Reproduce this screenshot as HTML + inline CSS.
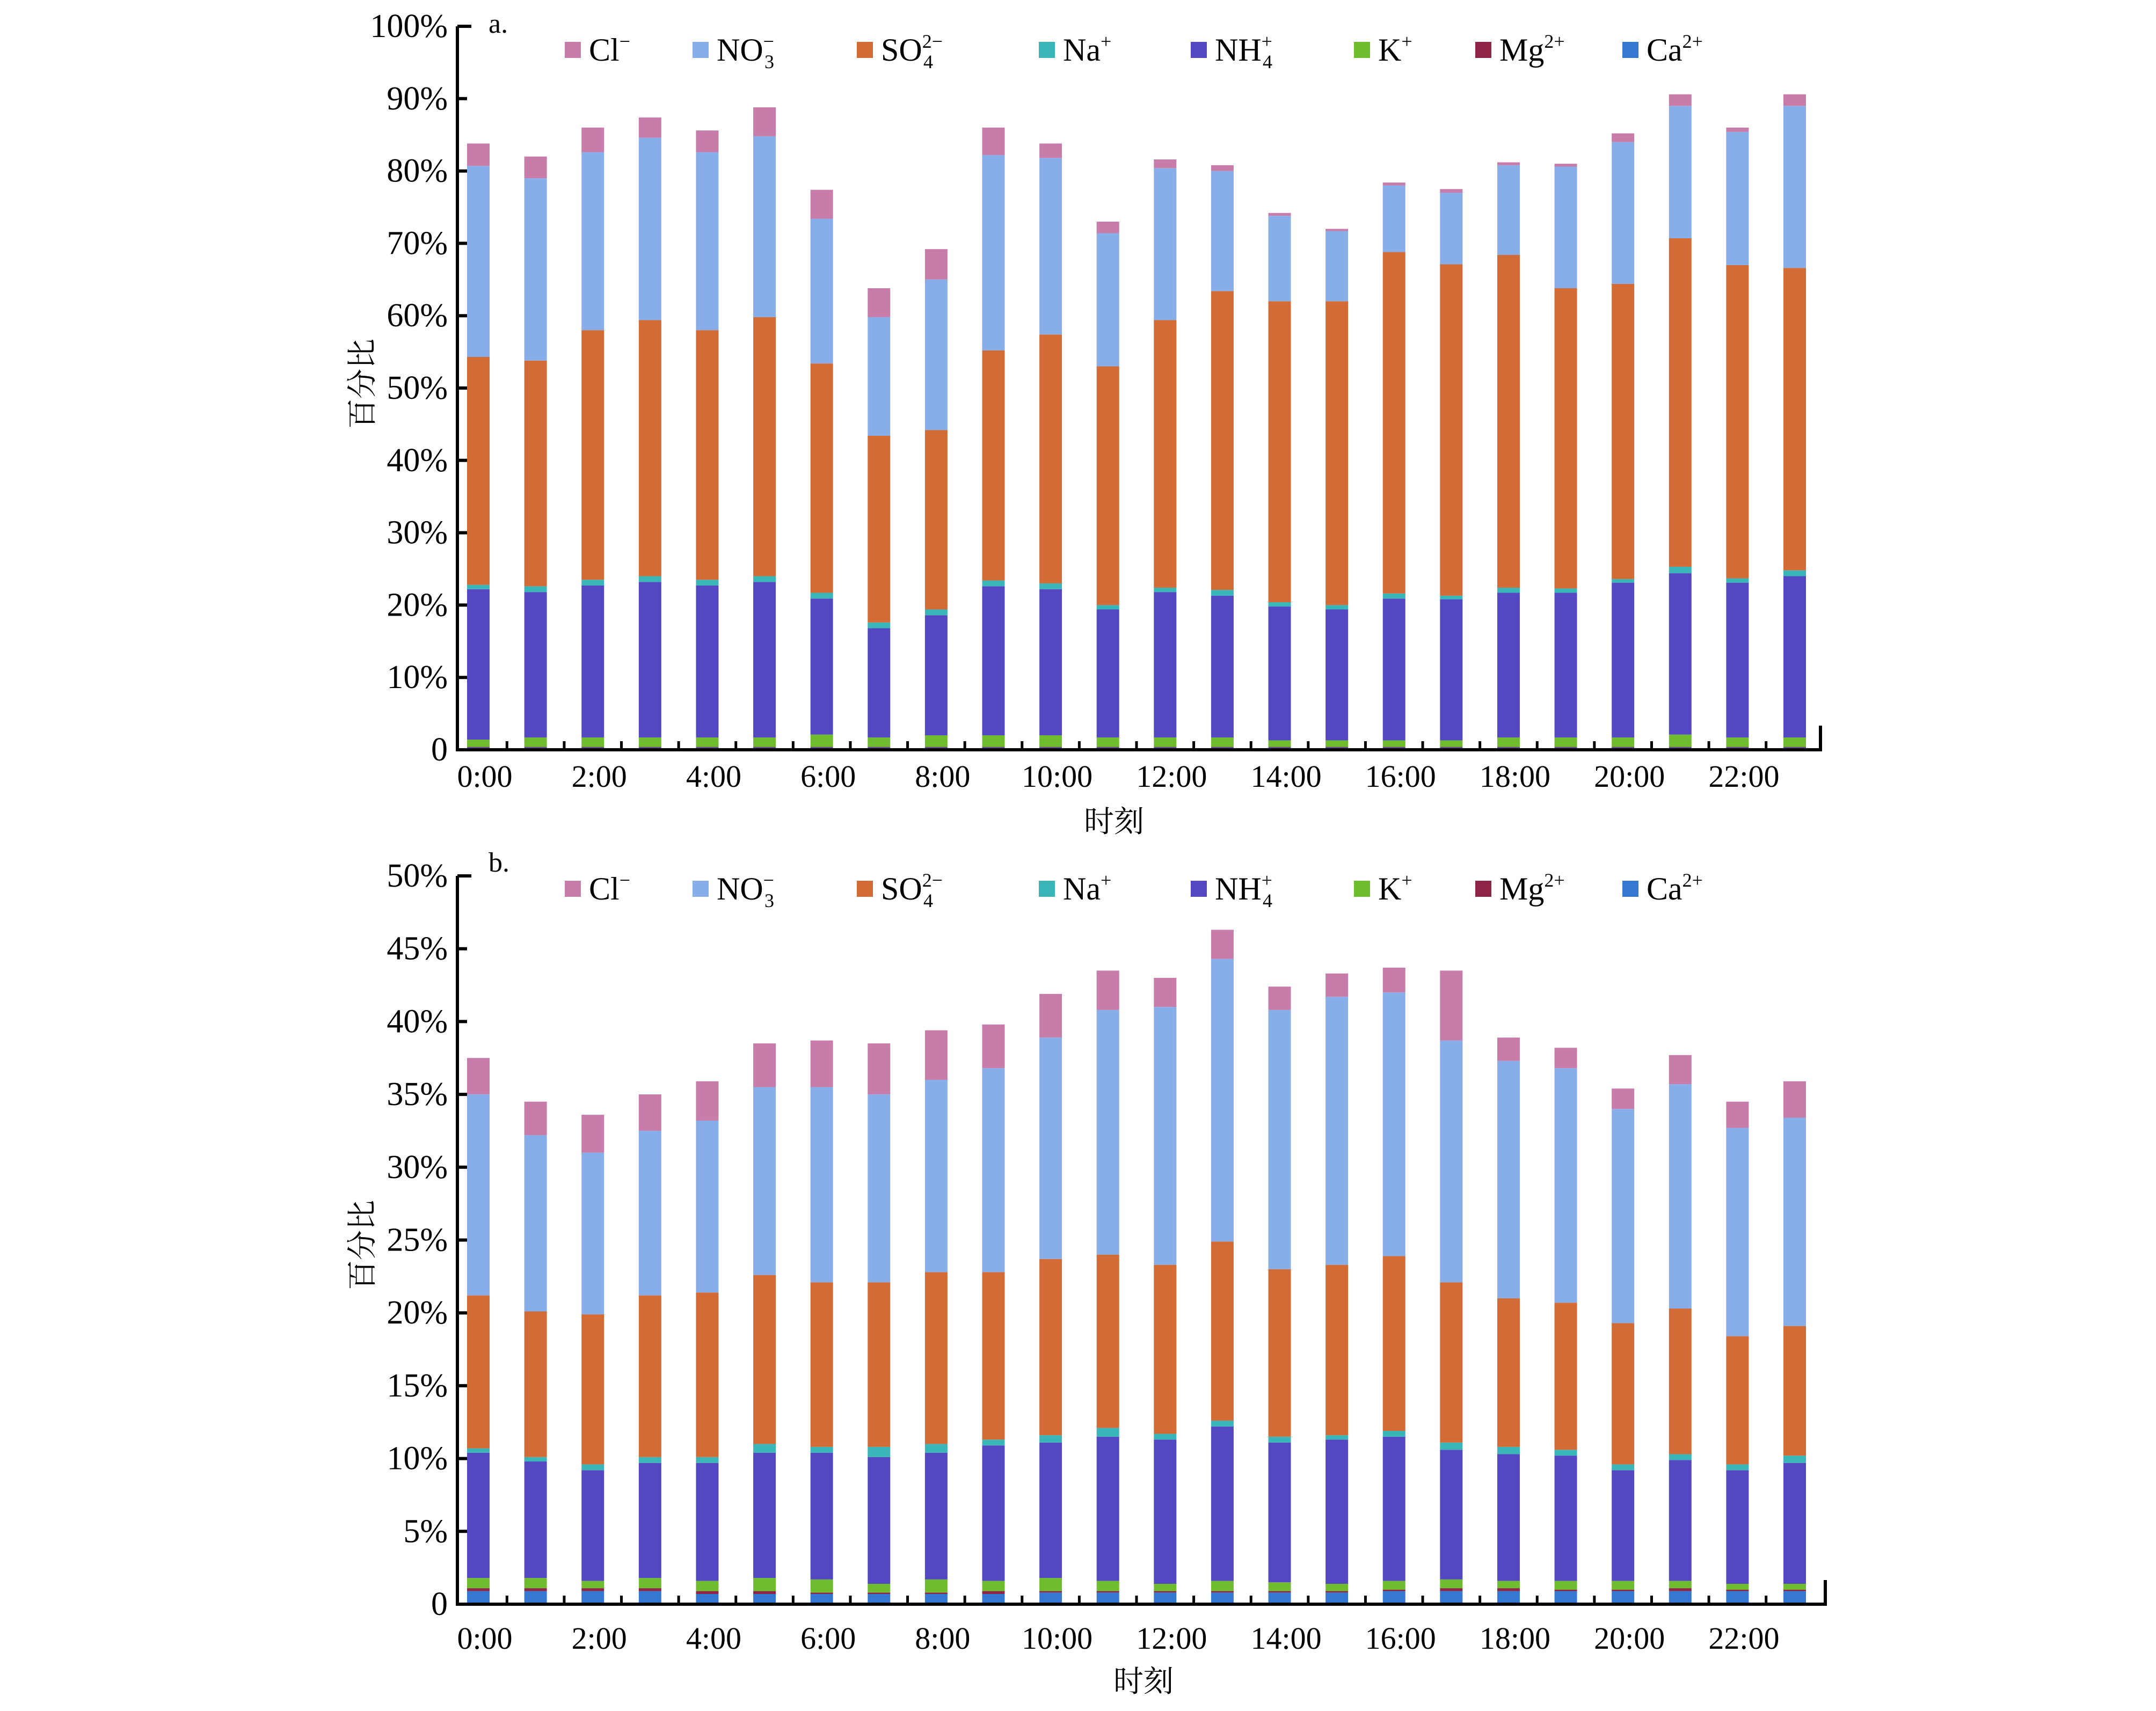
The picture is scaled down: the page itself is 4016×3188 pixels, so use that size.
<!DOCTYPE html>
<html><head><meta charset="utf-8"><style>
html,body{margin:0;padding:0;background:#fff}
svg{display:block}
text{font-family:"Liberation Serif","Noto Serif CJK SC",serif;fill:#000}
</style></head><body>
<svg id="svg" width="4016" height="3188" viewBox="0 0 4016 3188" xmlns="http://www.w3.org/2000/svg"></svg>
<script>
const hours = ["0:00","1:00","2:00","3:00","4:00","5:00","6:00","7:00","8:00","9:00","10:00","11:00","12:00","13:00","14:00","15:00","16:00","17:00","18:00","19:00","20:00","21:00","22:00","23:00"];
const species = ["Ca","Mg","K","NH4","Na","SO4","NO3","Cl"];
const colors = ["#3578d2","#8e2446","#6fbd2f","#5448c2","#3ab5b8","#d36b36","#88aeea","#c77ca9"];
// Panel a: segment values (%)
const aCa  = [0.3,0.3,0.3,0.3,0.3,0.3,0.3,0.3,0.3,0.3,0.3,0.3,0.3,0.3,0.3,0.3,0.3,0.3,0.3,0.3,0.3,0.3,0.3,0.3];
const aMg  = [0.1,0.1,0.1,0.1,0.1,0.1,0.1,0.1,0.1,0.1,0.1,0.1,0.1,0.1,0.1,0.1,0.1,0.1,0.1,0.1,0.1,0.1,0.1,0.1];
const aK   = [1.0,1.3,1.3,1.3,1.3,1.3,1.7,1.3,1.6,1.6,1.6,1.3,1.3,1.3,0.9,0.9,0.9,0.9,1.3,1.3,1.3,1.7,1.3,1.3];
const aNH4 = [20.8,20.1,21.0,21.5,21.0,21.5,18.8,15.1,16.6,20.6,20.2,17.7,20.1,19.6,18.5,18.1,19.6,19.5,20.0,20.0,21.4,22.3,21.4,22.3];
const aNa  = [0.6,0.8,0.8,0.8,0.8,0.8,0.8,0.8,0.8,0.8,0.8,0.6,0.6,0.8,0.6,0.6,0.7,0.5,0.7,0.6,0.5,0.9,0.6,0.8];
const aSO4 = [31.5,31.2,34.5,35.4,34.5,35.8,31.7,25.8,24.8,31.8,34.4,33.0,37.0,41.3,41.6,42.0,47.2,45.8,46.0,41.5,40.8,45.4,43.3,41.8];
const aNO3 = [26.4,25.2,24.6,25.2,24.6,25.0,20.0,16.4,20.8,27.0,24.4,18.4,21.0,16.6,11.8,9.7,9.2,9.9,12.4,16.8,19.6,18.3,18.4,22.4];
const aCl  = [3.1,3.0,3.4,2.8,3.0,4.0,4.0,4.0,4.2,3.8,2.0,1.6,1.2,0.8,0.4,0.3,0.4,0.5,0.4,0.4,1.2,1.6,0.6,1.6];
// Panel b: segment values (%)
const bCa  = [0.9,0.9,0.9,0.9,0.7,0.7,0.7,0.7,0.7,0.7,0.8,0.8,0.8,0.8,0.8,0.8,0.9,0.9,0.9,0.9,0.9,0.9,0.9,0.9];
const bMg  = [0.2,0.2,0.2,0.2,0.2,0.2,0.1,0.1,0.1,0.2,0.1,0.1,0.1,0.1,0.1,0.1,0.1,0.2,0.2,0.1,0.1,0.2,0.1,0.1];
const bK   = [0.7,0.7,0.5,0.7,0.7,0.9,0.9,0.6,0.9,0.7,0.9,0.7,0.5,0.7,0.6,0.5,0.6,0.6,0.5,0.6,0.6,0.5,0.4,0.4];
const bNH4 = [8.6,8.0,7.6,7.9,8.1,8.6,8.7,8.7,8.7,9.3,9.3,9.9,9.9,10.6,9.6,9.9,9.9,8.9,8.7,8.6,7.6,8.3,7.8,8.3];
const bNa  = [0.3,0.3,0.4,0.4,0.4,0.6,0.4,0.7,0.6,0.4,0.5,0.6,0.4,0.4,0.4,0.3,0.4,0.5,0.5,0.4,0.4,0.4,0.4,0.5];
const bSO4 = [10.5,10.0,10.3,11.1,11.3,11.6,11.3,11.3,11.8,11.5,12.1,11.9,11.6,12.3,11.5,11.7,12.0,11.0,10.2,10.1,9.7,10.0,8.8,8.9];
const bNO3 = [13.8,12.1,11.1,11.3,11.8,12.9,13.4,12.9,13.2,14.0,15.2,16.8,17.7,19.4,17.8,18.4,18.1,16.6,16.3,16.1,14.7,15.4,14.3,14.3];
const bCl  = [2.5,2.3,2.6,2.5,2.7,3.0,3.2,3.5,3.4,3.0,3.0,2.7,2.0,2.0,1.6,1.6,1.7,4.8,1.6,1.4,1.4,2.0,1.8,2.5];
const aTicks = ["0","10%","20%","30%","40%","50%","60%","70%","80%","90%","100%"];
const bTicks = ["0","5%","10%","15%","20%","25%","30%","35%","40%","45%","50%"];

const NS="http://www.w3.org/2000/svg";
const svg=document.getElementById('svg');
function mk(tag,attrs,parent){const e=document.createElementNS(NS,tag);for(const k in attrs)e.setAttribute(k,attrs[k]);(parent||svg).appendChild(e);return e;}

function panel(id, series, ticks, ymax, y0, y1, xL, xR, legendY, letter, titleY, xlabY, xtitle){
  const g=mk('g',{});
  
  
  const first=891, last=3343, step=(last-first)/23, bw=42;
  const xPos=i=>first+i*step;
  const yPos=v=>y0-(v/ymax)*(y0-y1);
  for(let i=0;i<hours.length;i++){
    let acc=0;
    for(let s=0;s<species.length;s++){
      const v=series[s][i];
      const r=mk('rect',{x:xPos(i)-bw/2,y:yPos(acc+v),width:bw,height:yPos(acc)-yPos(acc+v),fill:colors[s]},g);
      
      
      acc+=v;
    }
  }
  const ax=mk('path',{d:`M${xL} ${y1} V${y0} H${xR} V${y0-45}`,fill:'none',stroke:'#000','stroke-width':6},g);
  
  
  mk('line',{x1:xL,y1:y1,x2:xL+26,y2:y1,stroke:'#000','stroke-width':6},g);
  for(let t=0;t<ticks.length;t++){
    const v=ymax*t/(ticks.length-1), y=yPos(v);
    if(t>0&&t<ticks.length-1) mk('line',{x1:xL,y1:y,x2:xL+18,y2:y,stroke:'#000','stroke-width':6},g);
    const tx=mk('text',{x:xL-18,y:y,'font-size':62,'text-anchor':'end','dominant-baseline':'central'},g);
    tx.textContent=ticks[t];
    
    
  }
  for(let i=0;i<hours.length-1;i++){
    const x=xPos(i)+step/2;
    mk('line',{x1:x,y1:y0,x2:x,y2:y0-16,stroke:'#000','stroke-width':5},g);
  }
  for(let i=0;i<hours.length;i+=2){
    const tx=mk('text',{x:xPos(i)+12,y:xlabY,'font-size':58,'text-anchor':'middle'},g);
    tx.textContent=hours[i];
    
    
  }
  const xt=mk('text',{x:xtitle[0],y:xtitle[1],'font-size':56,'text-anchor':'middle'},g);
  xt.textContent='时刻';
  
  
  const yt=mk('text',{x:0,y:0,'font-size':56,'text-anchor':'middle','dominant-baseline':'central',transform:`translate(676 ${titleY}) rotate(-90)`},g);
  yt.textContent='百分比';
  
  
  const lt=mk('text',{x:910,y:legendY-32,'font-size':52},g);
  lt.textContent=letter;
  
  
  const lx=[1067,1305,1611,1950,2233,2537,2763,3037];
  const labels=[["Cl","−",""],["NO","−","3"],["SO","2−","4"],["Na","+",""],["NH","+","4"],["K","+",""],["Mg","2+",""],["Ca","2+",""]];
  const order=[7,6,5,4,3,2,1,0];
  for(let j=0;j<8;j++){
    const s=order[j];
    const le=mk('g',{},g);
    
    
    mk('rect',{x:lx[j]-15,y:legendY-15,width:30,height:30,fill:colors[s]},le);
    const t=mk('text',{x:lx[j]+30,y:legendY+20,'font-size':60},le);
    const L=labels[j];
    t.appendChild(document.createTextNode(L[0]));
    let supW=0;
    if(L[1]){const sp=mk('tspan',{'font-size':36,dy:-24},t);sp.textContent=L[1];supW=L[1].length*18;}
    if(L[2]){const sb=mk('tspan',{'font-size':36,dy:L[1]?38:14,dx:L[1]?-supW:0},t);sb.textContent=L[2];}
  }
}
panel('a',[aCa,aMg,aK,aNH4,aNa,aSO4,aNO3,aCl],aTicks,100,1397,49,852,3391,93,'a.',715,1466,[2075,1550]);
panel('b',[bCa,bMg,bK,bNH4,bNa,bSO4,bNO3,bCl],bTicks,50,2989,1632,852,3400,1656,'b.',2320,3072,[2130,3152]);
</script>
</body></html>
